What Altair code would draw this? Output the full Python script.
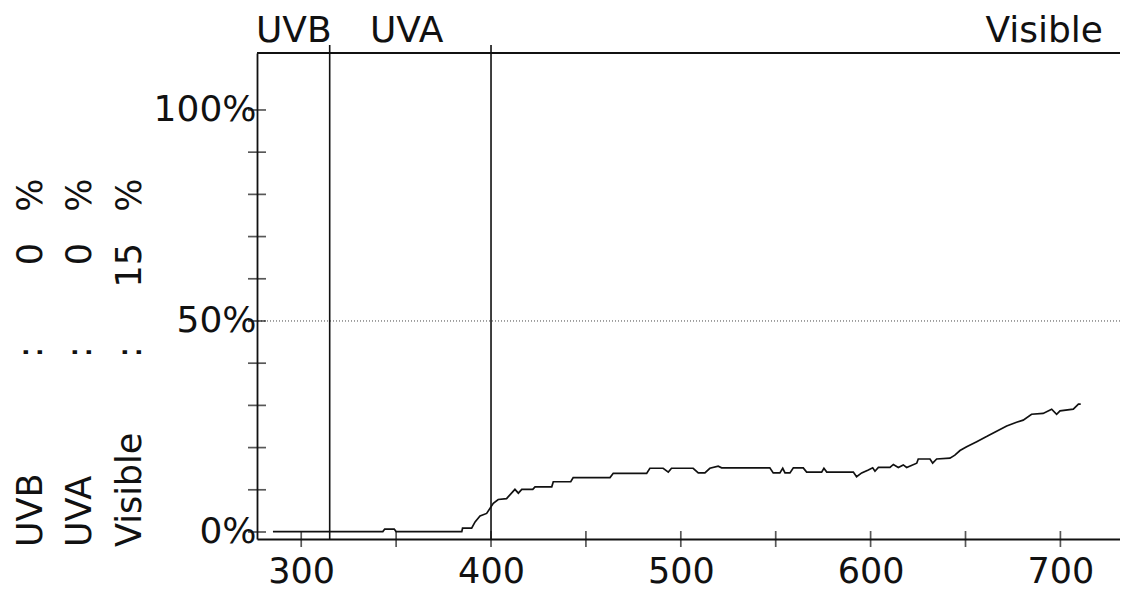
import altair as alt
import pandas as pd

# ---- data ----
wavelength = [285.1, 343, 344, 349, 350, 384.6, 385, 389.8, 391.6, 394.2, 397.7, 401.2,
              403.8, 408.2, 412.6, 414.4, 416.2, 422, 423.2, 432, 432.8, 442, 443.3,
              462.7, 464.4, 482, 483.7, 490.7, 493.4, 495.1, 506.5, 509.2, 512.7, 515.3,
              519.7, 521.5, 546.9, 548.7, 552.2, 553.7, 554.9, 557.5, 559.3, 564.5, 566.3,
              574.2, 575.4, 576.9, 590.9, 592.6, 595.3, 598.8, 601.1, 602.3, 604.1, 610.2,
              612, 614.6, 617.2, 619, 624.3, 625.1, 631.3, 632.7, 634.8, 641.8, 644.4,
              647.1, 650.6, 655.9, 661.1, 666.4, 671.7, 676.9, 680.4, 684.8, 690.9, 695.4,
              698, 699.8, 706.8, 709.5, 710.7]
transmission = [0.1, 0.1, 0.7, 0.7, 0.1, 0.1, 0.9, 0.9, 2.4, 3.8, 4.4, 6.8,
                7.7, 7.9, 10.1, 9.2, 10.1, 10.1, 10.7, 10.7, 11.9, 11.9, 12.9,
                12.9, 13.9, 13.9, 15.1, 15.1, 14.2, 15.1, 15.1, 14.0, 14.0, 15.1,
                15.6, 15.2, 15.2, 14.0, 14.0, 15.1, 14.0, 14.0, 15.2, 15.2, 14.2,
                14.2, 15.1, 14.2, 14.2, 13.1, 14.0, 14.7, 15.2, 14.4, 15.3, 15.3,
                16.0, 15.3, 15.9, 15.3, 16.3, 17.3, 17.3, 16.3, 17.3, 17.5, 18.2,
                19.3, 20.2, 21.4, 22.6, 23.9, 25.1, 26.0, 26.5, 27.9, 28.1, 29.1,
                27.9, 28.7, 29.1, 30.3, 30.3]

x_labels = [300, 400, 500, 600, 700]
x_ticks = [300, 350, 400, 450, 500, 550, 600, 650, 700]
y_labels = [0, 50, 100]
y_ticks = [0, 10, 20, 30, 40, 50, 60, 70, 80, 90, 100]
band_edges = [315, 400]
band_names = ["UVB", "UVA", "Visible"]
band_values = ["0", "0", "15"]
ref_level = [50]

X_MIN, X_MAX = 276.7, 731.4
Y_MIN, Y_MAX = -1.66, 113.5

FONT = "DejaVu Sans"
INK = "#111111"
FS = 36

curve = pd.DataFrame({"wavelength": wavelength, "transmission": transmission})

xscale = alt.Scale(domain=[X_MIN, X_MAX], nice=False, zero=False)
yscale = alt.Scale(domain=[Y_MIN, Y_MAX], nice=False, zero=False)

line = alt.Chart(curve).mark_line(color=INK, strokeWidth=1.7, interpolate="linear").encode(
    x=alt.X("wavelength:Q", scale=xscale,
            axis=alt.Axis(values=x_labels, title=None, grid=False, ticks=False,
                          labelFontSize=35, labelFont=FONT, labelColor=INK,
                          labelPadding=15, domainColor=INK, domainWidth=1.8,
                          labelFlush=False)),
    y=alt.Y("transmission:Q", scale=yscale,
            axis=alt.Axis(values=y_labels, title=None, grid=False, ticks=False,
                          labelFontSize=FS, labelFont=FONT, labelColor=INK,
                          labelPadding=1, domainColor=INK, domainWidth=1.8,
                          labelExpr="datum.value + '%'", labelFlush=False)),
)

ref = alt.Chart(pd.DataFrame({"v": ref_level})).mark_rule(
    color="#444", strokeWidth=1, strokeDash=[1, 2]).encode(y=alt.Y("v:Q"))

top = alt.Chart().mark_rule(color=INK, strokeWidth=1.8).encode(y=alt.datum(Y_MAX))

edges = alt.Chart(pd.DataFrame({"e": band_edges})).mark_rule(color=INK, strokeWidth=1.6).encode(
    x=alt.X("e:Q"), y=alt.datum(Y_MIN), y2=alt.datum(Y_MAX + 1.9))

xt = alt.Chart(pd.DataFrame({"t": x_ticks})).mark_tick(
    orient="vertical", size=16, thickness=1.7, color=INK).encode(
    x=alt.X("t:Q"), y=alt.datum(Y_MIN))

yt = alt.Chart(pd.DataFrame({"t": y_ticks})).mark_tick(
    orient="horizontal", size=18, thickness=1.7, color=INK).encode(
    y=alt.Y("t:Q"), x=alt.datum(X_MIN))


def txt(s, x, y, align="left", baseline="alphabetic", angle=0, size=FS):
    return alt.Chart().mark_text(text=s, font=FONT, fontSize=size, color=INK, align=align,
                                 baseline=baseline, angle=angle).encode(
        x=alt.value(x), y=alt.value(y))


texts = [
    txt(band_names[0], -1, -11),
    txt(band_names[1], 113, -11),
    txt(band_names[2], 846, -11, align="right"),
]

col_x = [-226, -177, -127]
for i in range(3):
    texts.append(txt(band_names[i], col_x[i], 494, "left", "middle", 270, 35))
    texts.append(txt(":", col_x[i], 299, "center", "middle", 270, 35))
    texts.append(txt(band_values[i], col_x[i], 190, "right", "middle", 270, 35))
    texts.append(txt("%", col_x[i], 142, "center", "middle", 270, 35))

chart = alt.layer(ref, top, edges, line, xt, yt, *texts).properties(
    width=863, height=486,
    autosize=alt.AutoSizeParams(type="none"),
    padding={"left": 249, "top": 45, "right": 0, "bottom": 52},
).configure_view(stroke=None)

chart.save("out.html", embed_options={"renderer": "svg", "actions": False})
